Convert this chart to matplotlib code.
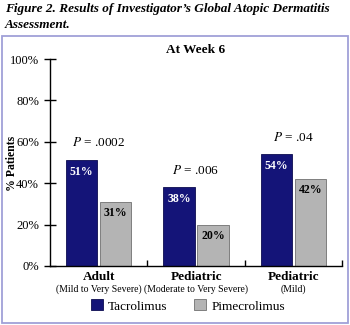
import matplotlib
matplotlib.use('Agg')
import matplotlib.pyplot as plt
from matplotlib.patches import Rectangle, Patch
import numpy as np

# Data
groups = ['Adult', 'Pediatric', 'Pediatric']
subgroups = ['(Mild to Very Severe)', '(Moderate to Very Severe)', '(Mild)']
tacrolimus = [51, 38, 54]
pimecrolimus = [31, 20, 42]
pvalues = ['.0002', '.006', '.04']
pvalue_heights = [59.5, 46, 62]
yticks = [0, 20, 40, 60, 80, 100]

navy = '#141478'
grey = '#b4b4b4'
frame = '#a0a0d8'

plt.rcParams['font.family'] = ['Liberation Serif', 'DejaVu Serif']

fig = plt.figure(figsize=(3.5, 3.25), dpi=100)

# Lavender box round the chart
fig.patches.append(Rectangle((2 / 350., 2 / 325.), 346 / 350., 287 / 325.,
                             transform=fig.transFigure, fill=False,
                             edgecolor=frame, linewidth=1.3))

fig.text(5 / 350., 1 - 3 / 325., "Figure 2. Results of Investigator\u2019s Global Atopic Dermatitis\nAssessment.",
         ha='left', va='top', fontsize=9.5, fontweight='bold', style='italic',
         linespacing=1.4)

ax = fig.add_axes([50 / 350., 59 / 325., 292 / 350., 207 / 325.])

x = np.arange(len(groups))
w = 0.32
off = 0.175
ax.bar(x - off, tacrolimus, w, color=navy, edgecolor='#0c0c50', linewidth=0.6)
ax.bar(x + off, pimecrolimus, w, color=grey, edgecolor='#707070', linewidth=0.6)

for i in range(len(groups)):
    ax.text(x[i] - off, tacrolimus[i] - 5.5, '%d%%' % tacrolimus[i], ha='center',
            va='center', color='white', fontsize=8.5, fontweight='bold')
    ax.text(x[i] + off, pimecrolimus[i] - 5.5, '%d%%' % pimecrolimus[i], ha='center',
            va='center', color='black', fontsize=8.5, fontweight='bold')
    ax.text(x[i], pvalue_heights[i], '$P$ = ' + pvalues[i], ha='center',
            va='center', fontsize=9.5, math_fontfamily='stix')
    ax.text(x[i], -5.5, groups[i], ha='center', va='center', fontsize=9.5,
            fontweight='bold')
    ax.text(x[i], -11, subgroups[i], ha='center', va='center', fontsize=7)

ax.set_xlim(-0.5, 2.5)
ax.set_ylim(0, 100)
ax.set_yticks(yticks)
ax.set_yticklabels(['%d%%' % t for t in yticks], fontsize=9)
ax.set_xticks([0.5, 1.5, 2.5])
ax.set_xticklabels([])
ax.tick_params(axis='y', direction='inout', length=8, width=1, pad=4)
ax.tick_params(axis='x', direction='in', length=4, width=1)
for s in ['top', 'right']:
    ax.spines[s].set_visible(False)
for s in ['left', 'bottom']:
    ax.spines[s].set_linewidth(1)

fig.text(12 / 350., 1 - 163 / 325., '% Patients', rotation=90, ha='center',
         va='center', fontsize=8.5, fontweight='bold')
ax.set_title('At Week 6', fontsize=9.5, fontweight='bold', pad=4)

handles = [Patch(facecolor=navy, edgecolor='#0c0c50', linewidth=0.6),
           Patch(facecolor=grey, edgecolor='#707070', linewidth=0.6)]
fig.legend(handles, ['Tacrolimus', 'Pimecrolimus'], loc='center',
           bbox_to_anchor=(188 / 350., 1 - 306 / 325.), ncol=2, frameon=False,
           fontsize=9.5, handlelength=0.9, handleheight=0.9, handletextpad=0.4,
           columnspacing=2.0)

fig.savefig('out.png', dpi=100)
